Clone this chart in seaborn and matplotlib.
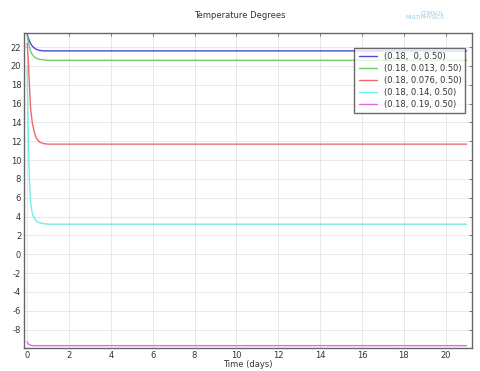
import numpy as np
import pandas as pd
import matplotlib
matplotlib.use("Agg")
import matplotlib.pyplot as plt
import seaborn as sns

# Data
time = [0.0, 0.05, 0.1, 0.16, 0.25, 0.35, 0.45, 0.6, 0.8, 1.0, 2.0, 21.0]
labels = ["(0.18,  0, 0.50)", "(0.18, 0.013, 0.50)", "(0.18, 0.076, 0.50)",
          "(0.18, 0.14, 0.50)", "(0.18, 0.19, 0.50)"]
blue = [23.4, 23.0, 22.7, 22.4, 22.1, 21.9, 21.75, 21.65, 21.6, 21.6, 21.6, 21.6]
green = [23.2, 22.6, 22.1, 21.6, 21.2, 20.95, 20.8, 20.7, 20.65, 20.6, 20.6, 20.6]
red = [22.4, 20.8, 18.5, 15.6, 13.9, 12.9, 12.3, 11.9, 11.75, 11.7, 11.7, 11.7]
cyan = [20.0, 13.0, 8.5, 5.6, 4.3, 3.8, 3.5, 3.35, 3.25, 3.2, 3.2, 3.2]
magenta = [-9.3, -9.5, -9.6, -9.65, -9.7, -9.7, -9.7, -9.7, -9.7, -9.7, -9.7, -9.7]
colors = ["#4b4bd6", "#6fcf6f", "#ec6a6a", "#72ecec", "#e866e8"]
y_ticks = [-8, -6, -4, -2, 0, 2, 4, 6, 8, 10, 12, 14, 16, 18, 20, 22]
x_ticks = [0, 2, 4, 6, 8, 10, 12, 14, 16, 18, 20]

series = [blue, green, red, cyan, magenta]
df = pd.concat([pd.DataFrame({"t": time, "T": s, "case": lab})
                for s, lab in zip(series, labels)], ignore_index=True)

sns.set_theme(style="white")
plt.rcParams['font.family'] = ['DejaVu Sans']
plt.rcParams['axes.unicode_minus'] = False

fig = plt.figure(figsize=(4.8, 3.71), dpi=100)
ax = fig.add_axes([0.05, 0.062, 0.933, 0.849])
sns.lineplot(data=df, x="t", y="T", hue="case", palette=colors,
             hue_order=labels, linewidth=1.0, ax=ax, estimator=None, sort=False)

ax.set_xlim(-0.15, 21.25)
ax.set_ylim(-9.95, 23.5)
ax.set_xticks(x_ticks)
ax.set_yticks(y_ticks)
ax.tick_params(labelsize=6, labelcolor="#333333", color="#777777",
               direction="in", length=2.5, width=0.7,
               top=True, right=True, pad=2)
ax.grid(True, color="#e4e4e4", linewidth=0.6)
for sp in ax.spines.values():
    sp.set_color("#666666")
    sp.set_linewidth(1.0)
ax.set_xlabel("Time (days)", fontsize=6, labelpad=0, color="#333333")
ax.set_ylabel("")
fig.text(0.5, 0.958, "Temperature Degrees", ha="center", va="center",
         fontsize=6, color="#333333")
fig.text(0.925, 0.958, "COMSOL\nMULTIPHYSICS", ha="right", va="center",
         fontsize=4, color="#9ec8e0", linespacing=0.9)

leg = ax.legend(loc="upper right", fontsize=6, frameon=True, fancybox=False,
                edgecolor="#444444", handlelength=2.2, borderpad=0.5,
                labelspacing=0.35, bbox_to_anchor=(0.995, 0.965))
leg.get_frame().set_linewidth(1.0)
leg.set_title(None)
for t in leg.get_texts():
    t.set_color("#333333")

fig.savefig("out.png", dpi=100, facecolor="white")
